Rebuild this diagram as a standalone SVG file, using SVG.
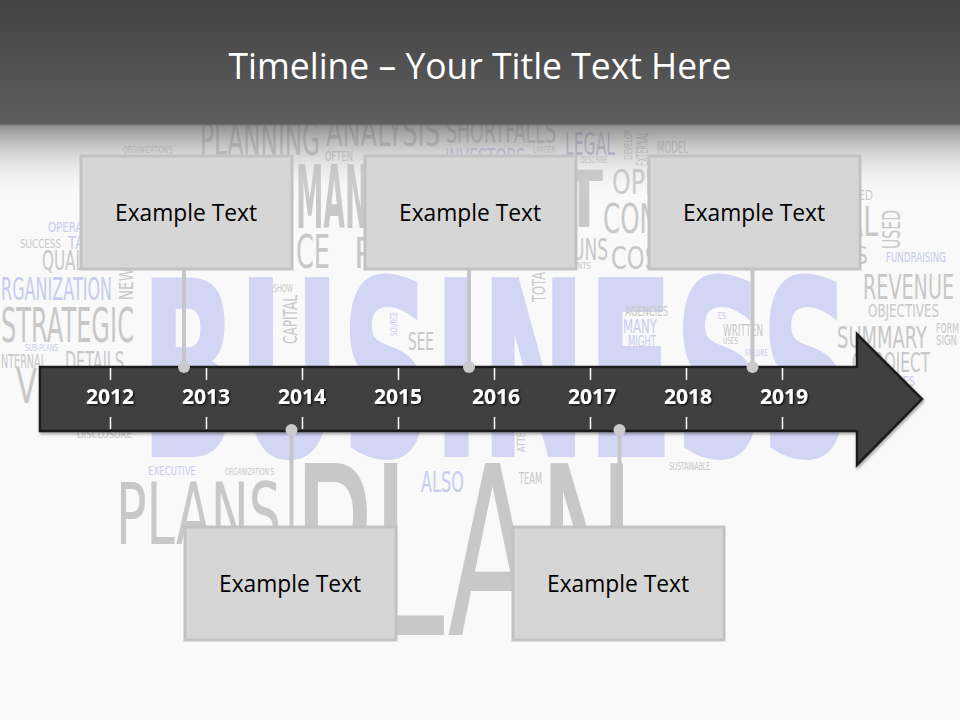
<svg xmlns="http://www.w3.org/2000/svg" width="960" height="720" viewBox="0 0 960 720">
<defs>
<linearGradient id="hdr" x1="0" y1="0" x2="0" y2="200" gradientUnits="userSpaceOnUse">
<stop offset="0" stop-color="#434343" stop-opacity="1"/>
<stop offset="0.62" stop-color="#5e5e5e" stop-opacity="1"/>
<stop offset="0.63" stop-color="#6a6a6a" stop-opacity="0.72"/>
<stop offset="0.8" stop-color="#b0b0b0" stop-opacity="0.35"/>
<stop offset="1" stop-color="#f9f9f9" stop-opacity="0"/>
</linearGradient>
<filter id="ts" x="-20%" y="-30%" width="140%" height="160%">
<feDropShadow dx="1.2" dy="1.2" stdDeviation="0.8" flood-color="#000" flood-opacity="0.8"/>
</filter>
<filter id="as" x="-5%" y="-10%" width="110%" height="125%">
<feDropShadow dx="1" dy="2" stdDeviation="1.5" flood-color="#000" flood-opacity="0.35"/>
</filter>
<style>
.w{font-family:"DejaVu Sans","Liberation Sans",sans-serif;font-weight:normal;fill:#c8c8c8}
.b{font-weight:bold}
.l{fill:#d2d5f4}
.lv{fill:#c8cbef}
.box{fill:#d6d6d6;stroke:#c2c2c2;stroke-width:3}
.bt{font-family:"Open Sans","Liberation Sans",sans-serif;font-size:24px;fill:#000;text-anchor:middle}
.yr{font-family:"Open Sans","Liberation Sans",sans-serif;font-size:21px;font-weight:bold;fill:#fff;text-anchor:middle}
.cn{stroke:#c6c6c6;stroke-width:4;fill:none}
.dot{fill:#cacaca}
.tk{stroke:#fff;stroke-width:1.5}
</style>
</defs>
<rect x="0" y="0" width="960" height="720" fill="#f9f9f9"/>
<g id="wordcloud">
<text class="w b l" x="140" y="457" font-size="247" textLength="712" lengthAdjust="spacingAndGlyphs">BUSINESS</text>
<text class="w" x="292" y="635" font-size="236" textLength="344" lengthAdjust="spacingAndGlyphs">PLAN</text>
<text class="w" x="123" y="153" font-size="9" textLength="50" lengthAdjust="spacingAndGlyphs">ORGANIZATION'S</text>
<text class="w" x="200" y="155" font-size="44" textLength="120" lengthAdjust="spacingAndGlyphs">PLANNING</text>
<text class="w" x="326" y="146" font-size="40" textLength="114" lengthAdjust="spacingAndGlyphs">ANALYSIS</text>
<text class="w" x="446" y="143" font-size="34" textLength="110" lengthAdjust="spacingAndGlyphs">SHORTFALLS</text>
<text class="w lv" x="445" y="166" font-size="24" textLength="80" lengthAdjust="spacingAndGlyphs">INVESTORS</text>
<text class="w" x="533" y="153" font-size="8" textLength="22" lengthAdjust="spacingAndGlyphs">LARGER</text>
<text class="w" x="565" y="155" font-size="32" textLength="50" lengthAdjust="spacingAndGlyphs" style="fill:#b9bbd8">LEGAL</text>
<text class="w" transform="translate(632,160) rotate(-90)" font-size="10" textLength="30" lengthAdjust="spacingAndGlyphs">DEVELOP</text>
<text class="w" transform="translate(648,166) rotate(-90)" font-size="15" textLength="34" lengthAdjust="spacingAndGlyphs">EXTERNAL</text>
<text class="w" x="657" y="153" font-size="15" textLength="31" lengthAdjust="spacingAndGlyphs">MODEL</text>
<text class="w" x="325" y="161" font-size="14" textLength="28" lengthAdjust="spacingAndGlyphs">OFTEN</text>
<text class="w" x="580" y="163" font-size="9" textLength="28" lengthAdjust="spacingAndGlyphs">DESCRIBE</text>
<text class="w b" x="296" y="228" font-size="88" textLength="72" lengthAdjust="spacingAndGlyphs">MAN</text>
<text class="w" x="296" y="268" font-size="46" textLength="34" lengthAdjust="spacingAndGlyphs">CE</text>
<text class="w" x="354" y="268" font-size="42" textLength="20" lengthAdjust="spacingAndGlyphs">P</text>
<text class="w b" x="565" y="227" font-size="78" textLength="38" lengthAdjust="spacingAndGlyphs">T</text>
<text class="w" x="612" y="194" font-size="34" textLength="40" lengthAdjust="spacingAndGlyphs">OPI</text>
<text class="w" x="603" y="233" font-size="40" textLength="55" lengthAdjust="spacingAndGlyphs">CON</text>
<text class="w" x="572" y="260" font-size="30" textLength="36" lengthAdjust="spacingAndGlyphs">UNS</text>
<text class="w" x="577" y="269" font-size="8" textLength="14" lengthAdjust="spacingAndGlyphs">NTS</text>
<text class="w" x="611" y="269" font-size="32" textLength="48" lengthAdjust="spacingAndGlyphs">COS</text>
<text class="w" transform="translate(545,302) rotate(-90)" font-size="18" textLength="30" lengthAdjust="spacingAndGlyphs">TOTA</text>
<text class="w" x="20" y="248" font-size="13" textLength="41" lengthAdjust="spacingAndGlyphs">SUCCESS</text>
<text class="w lv" x="48" y="232" font-size="14" textLength="40" lengthAdjust="spacingAndGlyphs">OPERAT</text>
<text class="w lv" x="68" y="249" font-size="17" textLength="16" lengthAdjust="spacingAndGlyphs">TA</text>
<text class="w" x="42" y="270" font-size="26" textLength="42" lengthAdjust="spacingAndGlyphs">QUAL</text>
<text class="w lv" x="1" y="300" font-size="32" textLength="111" lengthAdjust="spacingAndGlyphs">RGANIZATION</text>
<text class="w" transform="translate(133,300) rotate(-90)" font-size="20" textLength="32" lengthAdjust="spacingAndGlyphs">NEW</text>
<text class="w" x="1" y="342" font-size="48" textLength="133" lengthAdjust="spacingAndGlyphs">STRATEGIC</text>
<text class="w lv" x="25" y="351" font-size="9" textLength="33" lengthAdjust="spacingAndGlyphs">SUB-PLANS</text>
<text class="w" x="1" y="368" font-size="20" textLength="45" lengthAdjust="spacingAndGlyphs">NTERNAL</text>
<text class="w" x="65" y="372" font-size="28" textLength="59" lengthAdjust="spacingAndGlyphs">DETAILS</text>
<text class="w" x="16" y="403" font-size="48" textLength="30" lengthAdjust="spacingAndGlyphs">VI</text>
<text class="w" x="77" y="438" font-size="10" textLength="55" lengthAdjust="spacingAndGlyphs">DISCLOSURE</text>
<text class="w" x="273" y="292" font-size="11" textLength="20" lengthAdjust="spacingAndGlyphs">SHOW</text>
<text class="w" transform="translate(297,344) rotate(-90)" font-size="20" textLength="49" lengthAdjust="spacingAndGlyphs">CAPITAL</text>
<text class="w lv" transform="translate(397,336) rotate(-90)" font-size="9" textLength="24" lengthAdjust="spacingAndGlyphs">SOURCE</text>
<text class="w" x="408" y="350" font-size="24" textLength="26" lengthAdjust="spacingAndGlyphs">SEE</text>
<text class="w" x="625" y="316" font-size="14" textLength="43" lengthAdjust="spacingAndGlyphs">AGENCIES</text>
<text class="w lv" x="623" y="333" font-size="20" textLength="34" lengthAdjust="spacingAndGlyphs">MANY</text>
<text class="w lv" x="628" y="347" font-size="15" textLength="28" lengthAdjust="spacingAndGlyphs">MIGHT</text>
<text class="w lv" x="718" y="319" font-size="9" textLength="8" lengthAdjust="spacingAndGlyphs">ES</text>
<text class="w" x="723" y="336" font-size="15" textLength="40" lengthAdjust="spacingAndGlyphs">WRITTEN</text>
<text class="w" x="723" y="344" font-size="9" textLength="15" lengthAdjust="spacingAndGlyphs">USES</text>
<text class="w lv" x="745" y="356" font-size="9" textLength="23" lengthAdjust="spacingAndGlyphs">FAILURE</text>
<text class="w" x="858" y="200" font-size="14" textLength="15" lengthAdjust="spacingAndGlyphs">ED</text>
<text class="w" x="845" y="236" font-size="40" textLength="33" lengthAdjust="spacingAndGlyphs">AL</text>
<text class="w" x="855" y="264" font-size="24" textLength="13" lengthAdjust="spacingAndGlyphs">S</text>
<text class="w" transform="translate(900,249) rotate(-90)" font-size="24" textLength="39" lengthAdjust="spacingAndGlyphs">USED</text>
<text class="w lv" x="886" y="262" font-size="14" textLength="60" lengthAdjust="spacingAndGlyphs">FUNDRAISING</text>
<text class="w" x="863" y="299" font-size="34" textLength="91" lengthAdjust="spacingAndGlyphs">REVENUE</text>
<text class="w" x="868" y="317" font-size="18" textLength="71" lengthAdjust="spacingAndGlyphs">OBJECTIVES</text>
<text class="w" x="837" y="348" font-size="30" textLength="90" lengthAdjust="spacingAndGlyphs">SUMMARY</text>
<text class="w" x="936" y="333" font-size="14" textLength="23" lengthAdjust="spacingAndGlyphs">FORM</text>
<text class="w" x="936" y="345" font-size="14" textLength="21" lengthAdjust="spacingAndGlyphs">SIGN</text>
<text class="w" x="852" y="372" font-size="26" textLength="78" lengthAdjust="spacingAndGlyphs">OPROJECT</text>
<text class="w lv" x="868" y="386" font-size="14" textLength="47" lengthAdjust="spacingAndGlyphs">SERVICES</text>
<text class="w lv" x="148" y="475" font-size="13" textLength="48" lengthAdjust="spacingAndGlyphs">EXECUTIVE</text>
<text class="w" x="225" y="475" font-size="9" textLength="49" lengthAdjust="spacingAndGlyphs">ORGANIZATION'S</text>
<text class="w" x="116" y="544" font-size="85" textLength="165" lengthAdjust="spacingAndGlyphs">PLANS</text>
<text class="w lv" x="421" y="492" font-size="28" textLength="43" lengthAdjust="spacingAndGlyphs">ALSO</text>
<text class="w" x="519" y="484" font-size="15" textLength="23" lengthAdjust="spacingAndGlyphs">TEAM</text>
<text class="w" transform="translate(525,452) rotate(-90)" font-size="10" textLength="26" lengthAdjust="spacingAndGlyphs">ATTEN</text>
<text class="w" x="669" y="470" font-size="10" textLength="41" lengthAdjust="spacingAndGlyphs">SUSTAINABLE</text>
</g>
<rect x="0" y="0" width="960" height="200" fill="url(#hdr)"/>
<text id="title" x="480" y="79" font-family="Open Sans, Liberation Sans, sans-serif" font-size="37" fill="#fff" text-anchor="middle" textLength="503" lengthAdjust="spacingAndGlyphs">Timeline – Your Title Text Here</text>
<g id="connectors">
<line class="cn" x1="184" y1="268" x2="184" y2="367"/>
<line class="cn" x1="469" y1="268" x2="469" y2="367"/>
<line class="cn" x1="752.5" y1="268" x2="752.5" y2="367"/>
<line class="cn" x1="291.5" y1="430" x2="291.5" y2="528"/>
<line class="cn" x1="619.5" y1="430" x2="619.5" y2="528"/>
</g>
<g id="arrow">
<path d="M40,367 H857 V334 L922,399 L857,465 V431 H40 Z" fill="#404040" stroke="#1c1c1c" stroke-width="2.5" filter="url(#as)"/>
<g class="tk">
<line x1="110.5" y1="368" x2="110.5" y2="380"/><line x1="110.5" y1="417" x2="110.5" y2="429"/>
<line x1="206.5" y1="368" x2="206.5" y2="380"/><line x1="206.5" y1="417" x2="206.5" y2="429"/>
<line x1="302.5" y1="368" x2="302.5" y2="380"/><line x1="302.5" y1="417" x2="302.5" y2="429"/>
<line x1="398.5" y1="368" x2="398.5" y2="380"/><line x1="398.5" y1="417" x2="398.5" y2="429"/>
<line x1="494.5" y1="368" x2="494.5" y2="380"/><line x1="494.5" y1="417" x2="494.5" y2="429"/>
<line x1="590.5" y1="368" x2="590.5" y2="380"/><line x1="590.5" y1="417" x2="590.5" y2="429"/>
<line x1="686.5" y1="368" x2="686.5" y2="380"/><line x1="686.5" y1="417" x2="686.5" y2="429"/>
<line x1="782.5" y1="368" x2="782.5" y2="380"/><line x1="782.5" y1="417" x2="782.5" y2="429"/>
</g>
<g filter="url(#ts)">
<text class="yr" x="110" y="404">2012</text>
<text class="yr" x="206" y="404">2013</text>
<text class="yr" x="302" y="404">2014</text>
<text class="yr" x="398" y="404">2015</text>
<text class="yr" x="496" y="404">2016</text>
<text class="yr" x="592" y="404">2017</text>
<text class="yr" x="688" y="404">2018</text>
<text class="yr" x="784" y="404">2019</text>
</g>
</g>
<g id="dots">
<circle class="dot" cx="184" cy="367" r="6"/>
<circle class="dot" cx="469" cy="367" r="6"/>
<circle class="dot" cx="752.5" cy="367" r="6"/>
<circle class="dot" cx="291.5" cy="430" r="6"/>
<circle class="dot" cx="619.5" cy="430" r="6"/>
</g>
<g id="node1"><rect class="box" x="81" y="156" width="211" height="113"/><text class="bt" x="186" y="221" textLength="142" lengthAdjust="spacingAndGlyphs">Example Text</text></g>
<g id="node2"><rect class="box" x="365" y="156" width="211" height="113"/><text class="bt" x="470" y="221" textLength="142" lengthAdjust="spacingAndGlyphs">Example Text</text></g>
<g id="node3"><rect class="box" x="649" y="156" width="211" height="113"/><text class="bt" x="754" y="221" textLength="142" lengthAdjust="spacingAndGlyphs">Example Text</text></g>
<g id="node4"><rect class="box" x="185" y="527" width="211" height="113"/><text class="bt" x="290" y="592" textLength="142" lengthAdjust="spacingAndGlyphs">Example Text</text></g>
<g id="node5"><rect class="box" x="513" y="527" width="211" height="113"/><text class="bt" x="618" y="592" textLength="142" lengthAdjust="spacingAndGlyphs">Example Text</text></g>
</svg>
